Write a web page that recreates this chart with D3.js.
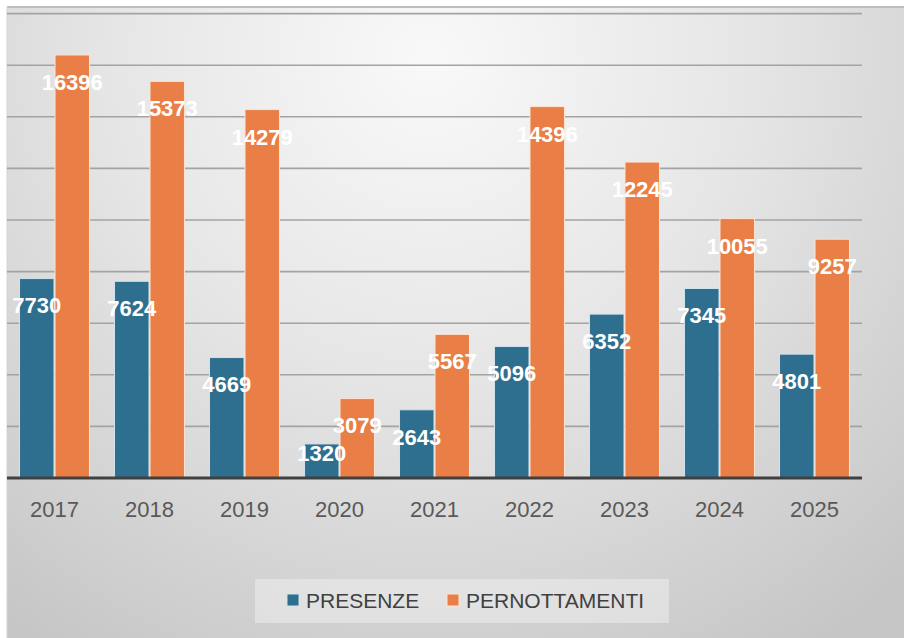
<!DOCTYPE html>
<html>
<head>
<meta charset="utf-8">
<script src="https://cdn.jsdelivr.net/npm/d3@7"></script>
<style>
  html, body { margin: 0; padding: 0; background: #ffffff; }
  svg { display: block; }
</style>
</head>
<body>
<svg id="chart" width="904" height="638"></svg>
<script>
// Yearly arrivals (presenze) and overnight stays (pernottamenti)
const years = ["2017", "2018", "2019", "2020", "2021", "2022", "2023", "2024", "2025"];
const presenze = [7730, 7624, 4669, 1320, 2643, 5096, 6352, 7345, 4801];
const pernottamenti = [16396, 15373, 14279, 3079, 5567, 14396, 12245, 10055, 9257];
const seriesNames = ["PRESENZE", "PERNOTTAMENTI"];
const gridTicks = [2000, 4000, 6000, 8000, 10000, 12000, 14000, 16000, 18000];

const colors = { PRESENZE: "#2e6e8f", PERNOTTAMENTI: "#e97f46" };
const strokes = { PRESENZE: "#cfe3ee", PERNOTTAMENTI: "#fde3d2" };

const svg = d3.select("#chart");
const W = 904, H = 638;
const panel = { x: 7, y: 7, w: W - 7, h: 631 };
const plot = { left: 7, right: 862, top: 13.6, bottom: 478 };

// panel background: soft radial shading
const defs = svg.append("defs");
const rg = defs.append("radialGradient")
  .attr("id", "bg").attr("gradientUnits", "userSpaceOnUse")
  .attr("cx", 430).attr("cy", 60).attr("r", 700);
rg.append("stop").attr("offset", "0%").attr("stop-color", "#f9f9f9");
rg.append("stop").attr("offset", "45%").attr("stop-color", "#e6e6e6");
rg.append("stop").attr("offset", "100%").attr("stop-color", "#c6c6c6");

svg.append("rect").attr("x", panel.x).attr("y", panel.y)
  .attr("width", panel.w).attr("height", panel.h).attr("fill", "url(#bg)");
svg.append("line").attr("x1", panel.x).attr("x2", W).attr("y1", panel.y).attr("y2", panel.y)
  .attr("stroke", "#bdbdbd").attr("stroke-width", 2);
svg.append("line").attr("x1", panel.x).attr("x2", panel.x).attr("y1", panel.y).attr("y2", H)
  .attr("stroke", "#d4d4d4").attr("stroke-width", 1);

const x0 = d3.scaleBand().domain(years).range([plot.left, plot.right]).paddingInner(0.253).paddingOuter(0.1265);
const x1 = d3.scaleBand().domain(seriesNames).range([0, x0.bandwidth()]);
const y = d3.scaleLinear().domain([0, 18000]).range([plot.bottom, plot.top]);

// gridlines
svg.append("g").selectAll("line").data(gridTicks).join("line")
  .attr("x1", plot.left).attr("x2", plot.right)
  .attr("y1", d => y(d)).attr("y2", d => y(d))
  .attr("stroke", "#a3a3a3").attr("stroke-width", 1.6);

const data = years.map((yr, i) => ({
  year: yr,
  values: [
    { key: "PRESENZE", value: presenze[i] },
    { key: "PERNOTTAMENTI", value: pernottamenti[i] }
  ]
}));

const groups = svg.append("g").selectAll("g").data(data).join("g")
  .attr("transform", d => `translate(${x0(d.year)},0)`);

groups.selectAll("rect").data(d => d.values).join("rect")
  .attr("x", d => x1(d.key) + 0.5)
  .attr("y", d => y(d.value))
  .attr("width", x1.bandwidth() - 1)
  .attr("height", d => y(0) - y(d.value))
  .attr("fill", d => colors[d.key])
  .attr("stroke", d => strokes[d.key])
  .attr("stroke-width", 1);

// baseline axis
const xAxis = svg.append("g").attr("transform", `translate(0,${plot.bottom})`)
  .call(d3.axisBottom(x0).tickSize(0).tickPadding(23));
xAxis.select(".domain").attr("stroke", "#404040").attr("stroke-width", 3)
  .attr("d", `M${plot.left},0H${plot.right}`);
xAxis.selectAll("text")
  .attr("fill", "#595959")
  .style("font-family", "'Liberation Sans', Arial, sans-serif")
  .style("font-size", "22px");

// value labels
groups.selectAll("text.val").data(d => d.values).join("text")
  .attr("class", "val")
  .attr("x", d => x1(d.key) + x1.bandwidth() / 2)
  .attr("y", d => Math.min(y(d.value) + 27, y(0) - 25))
  .attr("dy", "0.36em")
  .attr("text-anchor", "middle")
  .attr("fill", "#ffffff")
  .style("font-family", "'Liberation Sans', Arial, sans-serif")
  .style("font-weight", "bold")
  .style("font-size", "22px")
  .text(d => d.value);

// legend
const legend = svg.append("g");
legend.append("rect").attr("x", 255).attr("y", 579).attr("width", 414).attr("height", 44)
  .attr("fill", "#ffffff").attr("fill-opacity", 0.35);
const legendItems = [
  { key: "PRESENZE", x: 287 },
  { key: "PERNOTTAMENTI", x: 447 }
];
const li = legend.selectAll("g.item").data(legendItems).join("g")
  .attr("class", "item").attr("transform", d => `translate(${d.x},594)`);
li.append("rect").attr("width", 12).attr("height", 12)
  .attr("fill", d => colors[d.key]).attr("stroke", d => strokes[d.key]).attr("stroke-width", 1);
li.append("text").attr("x", 19).attr("y", 6).attr("dy", "0.36em")
  .attr("fill", "#404040")
  .style("font-family", "'Liberation Sans', Arial, sans-serif")
  .style("font-size", "21px")
  .text(d => d.key);
</script>
</body>
</html>
